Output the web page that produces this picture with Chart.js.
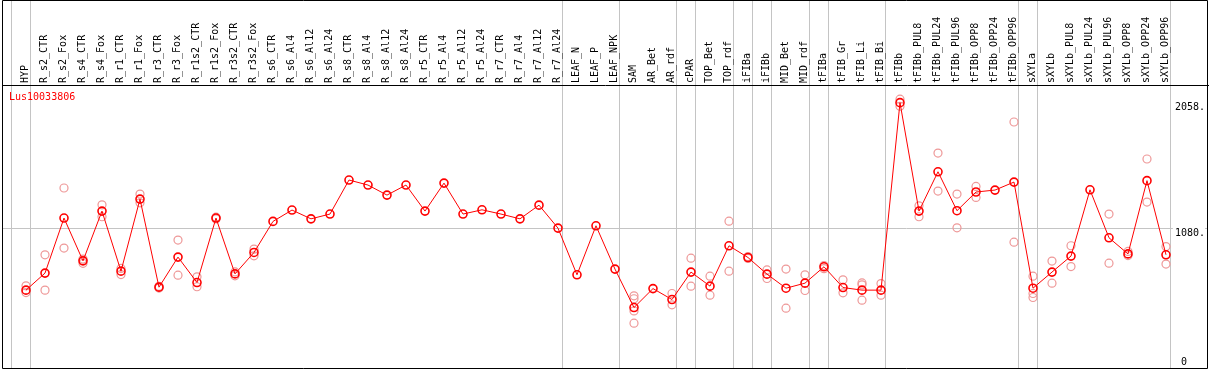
<!DOCTYPE html>
<html><head><meta charset="utf-8">
<script src="https://cdn.jsdelivr.net/npm/chart.js@4.4.1/dist/chart.umd.min.js"></script>
<style>
html,body{margin:0;padding:0;background:#fff;}
#wrap{position:relative;width:1209px;height:370px;}
#title{position:absolute;left:9px;top:91px;font:10px 'DejaVu Sans Mono',monospace;color:#f00;white-space:pre;line-height:12px;}
canvas{display:block;}
</style></head><body>
<div id="wrap"><canvas id="c" width="1209" height="370"></canvas><div id="title">Lus10033806</div></div>
<script>
const categories = ['HYP','R_s2_CTR','R_s2_Fox','R_s4_CTR','R_s4_Fox','R_r1_CTR','R_r1_Fox','R_r3_CTR','R_r3_Fox',
  'R_r1s2_CTR','R_r1s2_Fox','R_r3s2_CTR','R_r3s2_Fox','R_s6_CTR','R_s6_Al4','R_s6_Al12','R_s6_Al24',
  'R_s8_CTR','R_s8_Al4','R_s8_Al12','R_s8_Al24','R_r5_CTR','R_r5_Al4','R_r5_Al12','R_r5_Al24',
  'R_r7_CTR','R_r7_Al4','R_r7_Al12','R_r7_Al24','LEAF_N','LEAF_P','LEAF_NPK','SAM','AR_Bet','AR_rdf',
  'cPAR','TOP_Bet','TOP_rdf','iFIBa','iFIBb','MID_Bet','MID_rdf','tFIBa','tFIB_Gr','tFIB_Li','tFIB_Bi',
  'tFIBb','tFIBb_PUL8','tFIBb_PUL24','tFIBb_PUL96','tFIBb_OPP8','tFIBb_OPP24','tFIBb_OPP96',
  'sXYLa','sXYLb','sXYLb_PUL8','sXYLb_PUL24','sXYLb_PUL96','sXYLb_OPP8','sXYLb_OPP24','sXYLb_OPP96'];

const means = [604,736,1163,831,1217,751,1310,627,860,663,1163,730,896,1137,1225,
  1157,1194,1458,1419,1341,1419,1217,1434,1194,1227,1194,1157,1263,1085,723,1103,
  767,469,616,531,744,635,948,857,728,619,658,785,624,604,604,
  2058,1217,1522,1220,1365,1380,1442,
  619,744,868,1382,1010,885,1453,878];

const replicates = [
  [637,585],[878,604],[1396,930],[845,812],[1266,1173],[772,725],[1349,1281],[634,620],[992,720],
  [707,630],[1170,1156],[745,715],[922,870],[],[],[],[],
  [],[],[],[],[],[],[],[],
  [],[],[],[],[],[],[],[560,537,443,348],[],[578,490],
  [852,635],[712,565],[1139,751],[865,850],[761,694],[767,464],[723,601],[795,770],[684,583],[660,645,526],[655,565],
  [2085,2030],[1258,1173],[1667,1372],[1349,1087],[1408,1323],[],[1908,976],
  [712,578,547],[829,658],[948,787],[],[1194,813],[904,872],[1621,1287],[942,806]];

const separators = [-1,0,28,31,34,35,37,38,39,41,42,45,52,53,60];
const yTicks = [1080, 2058];
const yTickLabels = ['1080.', '2058.'];
const yZeroTicks = [0];
const yZeroLabels = ['0'];

const SEP_OFF = 0.24;
const X_MIN = -1.2632, X_MAX = 62.211;
const Y_MIN = 0, Y_MAX = 2195;

Chart.defaults.font.family = "'DejaVu Sans Mono', monospace";
Chart.defaults.font.size = 10;
Chart.defaults.color = '#000';

const meanPts = means.map((v,i)=>({x:i,y:v}));
const repPts = [];
replicates.forEach((arr,i)=>arr.forEach(v=>repPts.push({x:i,y:v})));
const sepVals = separators.map(s=>s+SEP_OFF);

function zeroPad(s){ s.paddingLeft=0; s.paddingRight=0; s.paddingTop=0; s.paddingBottom=0; }

const framePlugin = {
  id:'frame',
  afterDraw(chart){
    const {ctx, chartArea:a} = chart;
    ctx.save();
    ctx.strokeStyle='#000'; ctx.lineWidth=1;
    ctx.beginPath();
    const l=Math.round(a.left)+0.5, r=Math.round(a.right)-0.5, b=Math.round(a.bottom)+0.5;
    ctx.moveTo(l,0.5); ctx.lineTo(r,0.5); ctx.lineTo(r,b); ctx.lineTo(l,b); ctx.closePath();
    ctx.stroke();
    ctx.restore();
  }
};

new Chart(document.getElementById('c'), {
  type:'line',
  data:{datasets:[
    {label:'mean', data:meanPts, order:1, borderColor:'#ff0000', borderWidth:1,
     pointRadius:4, pointHoverRadius:4, pointBorderColor:'#ff0000', pointBorderWidth:1.6,
     pointBackgroundColor:'rgba(0,0,0,0)', tension:0},
    {label:'reps', data:repPts, order:2, showLine:false, pointRadius:4, pointHoverRadius:4,
     pointBorderColor:'#ee9898', pointBorderWidth:1.2, pointBackgroundColor:'rgba(0,0,0,0)'}
  ]},
  options:{
    responsive:false, animation:false, events:[],
    layout:{autoPadding:false, padding:{left:2,right:1,top:0,bottom:2}},
    plugins:{legend:{display:false}, tooltip:{enabled:false}, title:{display:false}},
    scales:{
      x:{type:'linear', position:'top', min:X_MIN, max:X_MAX,
        afterBuildTicks:(s)=>{
          const t = categories.map((c,i)=>({value:i}));
          sepVals.forEach(v=>t.push({value:v}));
          t.sort((a,b)=>a.value-b.value);
          s.ticks = t;
        },
        afterFit:(s)=>{ s.height = 85; zeroPad(s); },
        ticks:{autoSkip:false, minRotation:90, maxRotation:90, padding:-83, labelOffset:11,
          color:'#000', font:{size:10},
          callback:(v)=> Number.isInteger(v) ? categories[v] : ''},
        grid:{drawOnChartArea:true, drawTicks:true, tickLength:85, lineWidth:1,
          color:(ctx)=> (ctx.tick && !Number.isInteger(ctx.tick.value)) ? '#c4c4c4' : 'rgba(0,0,0,0)'},
        border:{display:true, color:'#000', width:1}
      },
      y:{type:'linear', position:'right', min:Y_MIN, max:Y_MAX,
        afterBuildTicks:(s)=>{ s.ticks = yTicks.map(v=>({value:v})); },
        afterFit:(s)=>{ s.width = 0; zeroPad(s); },
        ticks:{mirror:true, padding:-3, labelOffset:5, color:'#000', font:{size:10},
          showLabelBackdrop:true, backdropColor:'#fff', backdropPadding:{left:2,right:0,top:0,bottom:0},
          callback:(v)=> yTickLabels[yTicks.indexOf(v)]},
        grid:{drawTicks:false, lineWidth:1,
          color:(ctx)=> (ctx.tick && ctx.tick.value===1080) ? '#c4c4c4' : 'rgba(0,0,0,0)'},
        border:{display:false}
      },
      y0:{type:'linear', position:'right', min:Y_MIN, max:Y_MAX,
        afterBuildTicks:(s)=>{ s.ticks = yZeroTicks.map(v=>({value:v})); },
        afterFit:(s)=>{ s.width = 0; zeroPad(s); },
        ticks:{mirror:true, padding:-21, labelOffset:-6, color:'#000', font:{size:10},
          callback:(v)=> yZeroLabels[yZeroTicks.indexOf(v)]},
        grid:{display:false},
        border:{display:false}
      }
    }
  },
  plugins:[framePlugin]
});
</script>
</body></html>
